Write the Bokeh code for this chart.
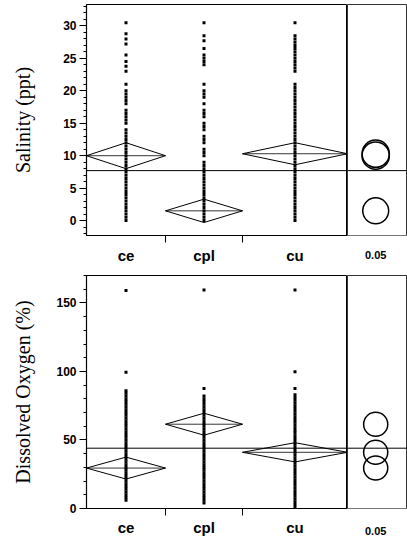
from bokeh.plotting import figure
from bokeh.models import Range1d, FixedTicker, SingleIntervalTicker, Span
from bokeh.layouts import column, row
from bokeh.embed import file_html
from bokeh.resources import INLINE

# ---------------- data ----------------
groups = ["ce", "cpl", "cu"]
group_n = [79, 77, 105]          # relative group widths (sample sizes)
circle_zone = 60                 # width of comparison-circle zone (same units)
alpha_text = "0.05"

# Salinity (ppt)
sal_ce = [0, 0.5, 1, 1.5, 2, 2.5, 3, 3.5, 4, 4.5, 5, 5.5, 6, 6.5, 7, 7.5, 8, 8.5,
          9, 9.5, 10, 10.5, 11, 11.5, 12, 12.5, 13, 13.5, 14, 15, 15.5, 16, 16.5,
          17, 18, 18.5, 19, 19.5, 20, 21, 23, 23.8, 24.5, 25.5, 27.2, 28, 28.8, 30.5]
sal_cpl = [0, 0.5, 1, 1.5, 2, 2.5, 3, 3.5, 4, 4.5, 5, 5.5, 6, 6.5, 7, 7.5, 8, 8.5,
           9, 10, 10.5, 11, 12, 12.5, 13, 14, 14.5, 15, 16, 16.5, 17, 18, 19, 19.5,
           20, 21, 24, 24.5, 25, 25.5, 26.5, 27.7, 28.5, 30.5]
sal_cu = [0, 0.5, 1, 1.5, 2, 2.5, 3, 3.5, 4, 4.5, 5, 5.5, 6, 6.5, 7, 7.5, 8, 8.5,
          9, 9.5, 10, 10.5, 11, 11.5, 12, 12.5, 13, 13.5, 14, 14.5, 15, 15.5, 16,
          16.5, 17, 17.5, 18, 18.5, 19, 19.5, 20, 20.5, 21, 23, 23.5, 24, 24.5, 25,
          25.5, 26, 26.5, 27, 27.5, 28, 28.5, 30.5]
sal_mean = [10.0, 1.5, 10.3]
sal_ci = [2.0, 1.8, 1.7]
sal_grand = 7.7
sal_circle_r = [2.1, 2.0, 2.1]

# Dissolved oxygen (%)
do_ce = [6, 8, 10, 12, 14, 16, 18, 20, 22, 24, 26, 28, 30, 32, 34, 36, 38, 40, 42,
         44, 46, 48, 50, 52, 54, 56, 58, 60, 62, 64, 66, 68, 70, 72, 74, 76, 78, 80,
         82, 84, 86, 99.5, 159]
do_cpl = [4, 6, 8, 10, 12, 14, 16, 18, 20, 22, 24, 26, 28, 30, 32, 34, 36, 38, 40,
          42, 44, 46, 48, 50, 52, 54, 56, 58, 60, 62, 64, 66, 68, 70, 72, 74, 76, 78,
          80, 82, 87.5, 159.5]
do_cu = [1, 3, 5, 7, 9, 11, 13, 15, 17, 19, 21, 23, 25, 27, 29, 31, 33, 35, 37, 39,
         41, 43, 45, 47, 49, 51, 53, 55, 57, 59, 61, 63, 65, 67, 69, 71, 73, 75, 77,
         79, 81, 83, 87.5, 99.7, 159.5]
do_mean = [29.5, 61.5, 41.0]
do_ci = [8.0, 8.0, 7.0]
do_grand = 44.0
do_circle_r = [8.8, 8.8, 8.8]

TICK_FONT = "Liberation Sans"
LABEL_FONT = "Liberation Serif"


def style_xaxis(xa, size, standoff):
    xa.major_label_text_font = TICK_FONT
    xa.major_label_text_font_style = "bold"
    xa.major_label_text_font_size = size
    xa.major_label_text_color = "black"
    xa.major_label_standoff = standoff
    xa.major_tick_line_color = None
    xa.axis_line_color = "black"


def panel(values, means, cis, grand, radii, y0, y1, interval, ylabel,
          height, b_top, b_bottom, x_standoff, ax_standoff, a_standoff):
    edges = [0]
    for n in group_n:
        edges.append(edges[-1] + n)
    lefts, rights = edges[:-1], edges[1:]
    centers = [(a + b) / 2 for a, b in zip(lefts, rights)]

    yr = Range1d(y0, y1)
    p = figure(width=86 + edges[-1], height=height, x_range=Range1d(0, edges[-1]),
               y_range=yr, output_backend="svg",
               toolbar_location=None, min_border_left=86, min_border_right=0,
               min_border_top=b_top, min_border_bottom=b_bottom,
               outline_line_color="black", outline_line_width=1.0)
    p.xgrid.visible = False
    p.ygrid.visible = False

    # y axis
    ya = p.yaxis[0]
    ya.ticker = SingleIntervalTicker(interval=interval, num_minor_ticks=5)
    ya.axis_label = ylabel
    ya.axis_label_text_font = LABEL_FONT
    ya.axis_label_text_font_style = "normal"
    ya.axis_label_text_font_size = "20px"
    ya.axis_label_text_color = "black"
    ya.axis_label_standoff = ax_standoff
    ya.major_label_text_font = TICK_FONT
    ya.major_label_text_font_style = "bold"
    ya.major_label_text_font_size = "12px"
    ya.major_label_text_color = "black"
    ya.major_label_standoff = 3
    ya.major_tick_out = 7
    ya.major_tick_in = 0
    ya.minor_tick_out = 3
    ya.minor_tick_in = 0
    ya.axis_line_color = "black"
    ya.axis_line_width = 1.2

    # x axis: labels at group centres, ticks at group boundaries
    xa = p.xaxis[0]
    xa.ticker = FixedTicker(ticks=centers, minor_ticks=rights)
    xa.major_label_overrides = {c: g for c, g in zip(centers, groups)}
    style_xaxis(xa, "15px", x_standoff)
    xa.minor_tick_out = 7
    xa.minor_tick_in = 0
    xa.minor_tick_line_color = "black"

    # data points
    for c, vals in zip(centers, values):
        p.scatter([c] * len(vals), vals, marker="square", size=3,
                  fill_color="black", line_color=None)

    # means diamonds
    xs, ys = [], []
    for l, r, c, m, h in zip(lefts, rights, centers, means, cis):
        xs.append([l, c, r, c])
        ys.append([m, m + h, m, m - h])
    p.patches(xs, ys, fill_color=None, line_color="black", line_width=1)
    p.segment(x0=lefts, y0=means, x1=rights, y1=means, line_color="black",
              line_width=0.8)
    p.add_layout(Span(location=grand, dimension="width", line_color="black",
                      line_width=1))

    # comparison-circle zone
    q = figure(width=circle_zone, height=height, x_range=Range1d(0, circle_zone),
               y_range=yr, output_backend="svg", toolbar_location=None,
               min_border_left=0, min_border_right=0,
               min_border_top=b_top, min_border_bottom=b_bottom,
               y_axis_location=None,
               outline_line_color="black", outline_line_width=0.8)
    q.xgrid.visible = False
    q.ygrid.visible = False
    qa = q.xaxis[0]
    cc_x = circle_zone * 0.47
    qa.ticker = FixedTicker(ticks=[cc_x], minor_ticks=[])
    qa.major_label_overrides = {cc_x: alpha_text}
    style_xaxis(qa, "11px", a_standoff)
    qa.minor_tick_line_color = None
    qa.axis_line_color = "#777777"
    q.add_layout(Span(location=grand, dimension="width", line_color="black",
                      line_width=1))
    q.circle(x=[cc_x] * len(means), y=means, radius=radii, radius_dimension="y",
             fill_color=None, line_color="black", line_width=1.5)
    return row(p, q, spacing=0)


r1 = panel([sal_ce, sal_cpl, sal_cu], sal_mean, sal_ci, sal_grand, sal_circle_r,
           -2.3, 33.3, 5, "Salinity (ppt)", 268, 4, 33, 4, 26, 9)
r2 = panel([do_ce, do_cpl, do_cu], do_mean, do_ci, do_grand, do_circle_r,
           0, 170, 50, "Dissolved Oxygen (%)", 270, 7, 30, 3, 19, 12)

layout = column(r1, r2, spacing=0)
open("out.html", "w").write(file_html(layout, INLINE))
